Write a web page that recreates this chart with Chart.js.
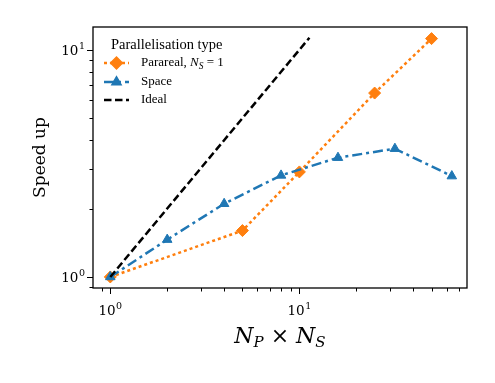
<!DOCTYPE html>
<html>
<head>
<meta charset="utf-8">
<script src="https://cdn.jsdelivr.net/npm/chart.js@4/dist/chart.umd.min.js"></script>
<style>
  html, body { margin: 0; padding: 0; background: #fff; }
  canvas { display: block; }
</style>
</head>
<body>
<canvas id="grafica" width="495" height="383"></canvas>
<script>
// Datos de la gráfica
const pararealX = [1, 5, 10, 25, 50];
const pararealY = [1.0, 1.6, 2.9, 6.45, 11.2];
const spaceX = [1, 2, 4, 8, 16, 32, 64];
const spaceY = [1.0, 1.46, 2.1, 2.8, 3.35, 3.67, 2.78];
const idealX = [1, 11.3];
const idealY = [1, 11.3];

// Ejes
const xLimits = [0.81, 77];
const yLimits = [0.894, 12.6];
const majorTicks = [1, 10];
const majorExponents = ['0', '1'];
const minorTicksX = [0.9, 2, 3, 4, 5, 6, 7, 8, 9, 20, 30, 40, 50, 60, 70];
const minorTicksY = [0.9, 2, 3, 4, 5, 6, 7, 8, 9];

const legendTitle = 'Parallelisation type';
const seriesNames = ['Parareal', 'Space', 'Ideal'];

const naranja = '#ff7f0e';
const azul = '#1f77b4';
const serif = '"DejaVu Serif", serif';
const legendFont = '"Liberation Serif", "Times New Roman", serif';

const toPoints = (xs, ys) => xs.map((x, i) => ({ x: x, y: ys[i] }));

// Dibuja "10" con su exponente; devuelve el ancho total
const potencia = (ctx, exp, x, y, align) => {
    ctx.font = '13.5px ' + serif;
    const wBase = ctx.measureText('10').width;
    ctx.font = '9.5px ' + serif;
    const wExp = ctx.measureText(exp).width;
    const total = wBase + wExp + 0.5;
    let x0 = align === 'right' ? x - total : x - total / 2;
    ctx.textAlign = 'left';
    ctx.textBaseline = 'alphabetic';
    ctx.font = '13.5px ' + serif;
    ctx.fillText('10', x0, y);
    ctx.font = '9.5px ' + serif;
    ctx.fillText(exp, x0 + wBase + 0.5, y - 6);
};

// Marco, marcas de los ejes, etiquetas, título del eje X y leyenda
const decoracion = {
    id: 'decoracion',
    afterDraw(chart) {
        const ctx = chart.ctx;
        const area = chart.chartArea;
        const sx = chart.scales.x;
        const sy = chart.scales.y;

        ctx.save();
        ctx.strokeStyle = '#000';
        ctx.fillStyle = '#000';
        ctx.lineWidth = 1;
        const marca = (val, len, eje) => {
            ctx.beginPath();
            if (eje === 'x') {
                const px = Math.round(sx.getPixelForValue(val)) + 0.5;
                ctx.moveTo(px, area.bottom);
                ctx.lineTo(px, area.bottom + len);
            } else {
                const py = Math.round(sy.getPixelForValue(val)) + 0.5;
                ctx.moveTo(area.left, py);
                ctx.lineTo(area.left - len, py);
            }
            ctx.stroke();
        };
        majorTicks.forEach(v => { marca(v, 6, 'x'); marca(v, 6, 'y'); });
        minorTicksX.forEach(v => marca(v, 3.5, 'x'));
        minorTicksY.forEach(v => marca(v, 3.5, 'y'));

        // etiquetas de las marcas principales
        majorTicks.forEach((v, i) => {
            potencia(ctx, majorExponents[i], sx.getPixelForValue(v), area.bottom + 27, 'center');
            potencia(ctx, majorExponents[i], area.left - 8, sy.getPixelForValue(v) + 5, 'right');
        });

        // marco
        ctx.lineWidth = 1.3;
        ctx.strokeRect(area.left, area.top, area.right - area.left, area.bottom - area.top);

        // título del eje X: N_P × N_S
        const cx = (area.left + area.right) / 2;
        const base = 343;
        const big = 'italic 22px ' + serif;
        const small = 'italic 15px ' + serif;
        const normal = '22px ' + serif;
        const partes = [
            { t: 'N', f: big, dy: 0 },
            { t: 'P', f: small, dy: 4 },
            { t: ' \u00d7 ', f: normal, dy: 0 },
            { t: 'N', f: big, dy: 0 },
            { t: 'S', f: small, dy: 4 }
        ];
        ctx.textBaseline = 'alphabetic';
        ctx.textAlign = 'left';
        let total = 0;
        partes.forEach(p => { ctx.font = p.f; p.w = ctx.measureText(p.t).width; total += p.w; });
        let x = cx - total / 2;
        partes.forEach(p => {
            ctx.font = p.f;
            ctx.fillText(p.t, x, base + p.dy);
            x += p.w;
        });

        // leyenda
        ctx.font = '14.5px ' + legendFont;
        ctx.textBaseline = 'middle';
        ctx.fillText(legendTitle, 111, 45);

        const filas = [63, 82, 100];
        chart.data.datasets.forEach((ds, i) => {
            const y = filas[i];
            ctx.save();
            ctx.strokeStyle = ds.borderColor;
            ctx.lineWidth = ds.borderWidth;
            ctx.setLineDash(ds.borderDash || []);
            ctx.beginPath();
            ctx.moveTo(104, y);
            ctx.lineTo(129, y);
            ctx.stroke();
            ctx.restore();
            if (ds.pointRadius > 0) {
                ctx.fillStyle = ds.pointBackgroundColor;
                ctx.strokeStyle = ds.pointBackgroundColor;
                Chart.helpers.drawPoint(ctx, { pointStyle: ds.pointStyle, radius: ds.pointRadius, borderWidth: 1, rotation: 0 }, 116.5, y);
            }
            ctx.fillStyle = '#000';
            let tx = 141;
            const trozos = i === 0
                ? [
                    { t: seriesNames[0] + ', ', f: '13px ' + legendFont, dy: 0 },
                    { t: 'N', f: 'italic 13px ' + legendFont, dy: 0 },
                    { t: 'S', f: 'italic 9.5px ' + legendFont, dy: 3 },
                    { t: ' = 1', f: '13px ' + legendFont, dy: 0 }
                  ]
                : [{ t: seriesNames[i], f: '13px ' + legendFont, dy: 0 }];
            trozos.forEach(p => {
                ctx.font = p.f;
                ctx.fillText(p.t, tx, y + p.dy);
                tx += ctx.measureText(p.t).width;
            });
        });
        ctx.restore();
    }
};

const ctxGrafica = document.getElementById('grafica').getContext('2d');
const grafica = new Chart(ctxGrafica, {
    type: 'line',
    data: {
        datasets: [{
            label: seriesNames[0],
            data: toPoints(pararealX, pararealY),
            borderColor: naranja,
            backgroundColor: naranja,
            borderWidth: 2.5,
            borderDash: [3, 3],
            pointStyle: 'rectRot',
            pointRadius: 6,
            pointBackgroundColor: naranja,
            pointBorderColor: naranja,
            pointBorderWidth: 1,
            order: 3
        }, {
            label: seriesNames[1],
            data: toPoints(spaceX, spaceY),
            borderColor: azul,
            backgroundColor: azul,
            borderWidth: 2.5,
            borderDash: [10, 4, 3, 4],
            pointStyle: 'triangle',
            pointRadius: 5.5,
            pointBackgroundColor: azul,
            pointBorderColor: azul,
            pointBorderWidth: 1,
            order: 2
        }, {
            label: seriesNames[2],
            data: toPoints(idealX, idealY),
            borderColor: '#000',
            backgroundColor: '#000',
            borderWidth: 2.5,
            borderDash: [7.5, 3.5],
            pointRadius: 0,
            order: 1
        }]
    },
    options: {
        responsive: false,
        animation: false,
        devicePixelRatio: 1,
        layout: { padding: { left: 0, right: 28, top: 27, bottom: 0 } },
        scales: {
            x: {
                type: 'logarithmic',
                min: xLimits[0],
                max: xLimits[1],
                grid: { display: false, drawTicks: false },
                border: { display: false },
                afterBuildTicks: (scale) => { scale.ticks = majorTicks.map(v => ({ value: v })); },
                afterFit: (scale) => { scale.height = 95; },
                ticks: { display: false }
            },
            y: {
                type: 'logarithmic',
                min: yLimits[0],
                max: yLimits[1],
                grid: { display: false, drawTicks: false },
                border: { display: false },
                afterBuildTicks: (scale) => { scale.ticks = majorTicks.map(v => ({ value: v })); },
                afterFit: (scale) => { scale.width = 93; },
                title: {
                    display: true,
                    text: 'Speed up',
                    color: '#000',
                    font: { family: serif, size: 17 },
                    padding: { top: 30, bottom: 0 }
                },
                ticks: { display: false }
            }
        },
        plugins: {
            legend: { display: false },
            tooltip: { enabled: false }
        }
    },
    plugins: [decoracion]
});
</script>
</body>
</html>
